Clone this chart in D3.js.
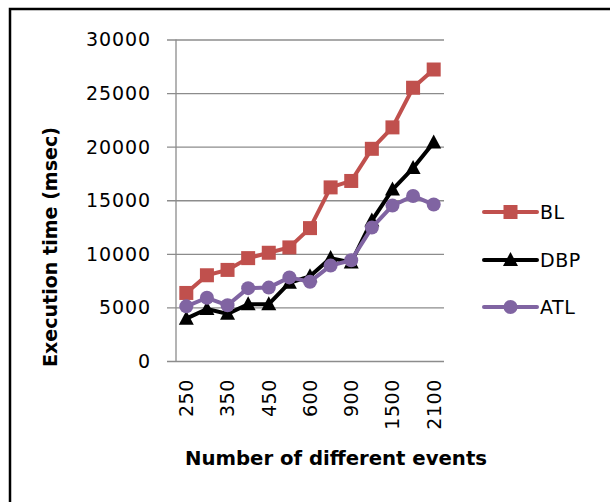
<!DOCTYPE html>
<html>
<head>
<meta charset="utf-8">
<script src="https://cdn.jsdelivr.net/npm/d3@7/dist/d3.min.js"></script>
<style>
  html, body { margin: 0; padding: 0; background: #fff; }
  svg { display: block; }
  text { font-family: "DejaVu Sans", sans-serif; fill: #000; }
</style>
</head>
<body>
<svg id="chart" width="610" height="502"></svg>
<script>
// Number of distinct events (x categories)
const categories = ["250", "300", "350", "400", "450", "500", "600", "750", "900", "1200", "1500", "1800", "2100"];
// Execution time in msec for each approach
const blValues  = [6350, 8000, 8500, 9600, 10100, 10600, 12400, 16200, 16800, 19800, 21800, 25500, 27200];
const dbpValues = [3950, 4850, 4400, 5300, 5300, 7300, 7900, 9600, 9200, 13100, 16000, 18000, 20400];
const atlValues = [5100, 5900, 5200, 6800, 6850, 7800, 7400, 8900, 9400, 12450, 14500, 15400, 14600];
const yTicks = [0, 5000, 10000, 15000, 20000, 25000, 30000];
const xTickLabels = ["250", "350", "450", "600", "900", "1500", "2100"];

const series = [
  { name: "BL",  values: blValues,  color: "#C0504D", marker: "square" },
  { name: "DBP", values: dbpValues, color: "#000000", marker: "triangle" },
  { name: "ATL", values: atlValues, color: "#8064A2", marker: "circle" }
];

const svg = d3.select("#chart");

// outer frame (top and left edges visible)
svg.append("path")
  .attr("d", "M10,502 L10,9 L610,9")
  .attr("fill", "none").attr("stroke", "#000").attr("stroke-width", 2.5);

const plot = { left: 176, right: 444, top: 39.5, bottom: 361 };

const x = d3.scaleBand().domain(categories).range([plot.left, plot.right]);
const y = d3.scaleLinear().domain([0, 30000]).range([plot.bottom, plot.top]);

// horizontal gridlines with tick stubs
const yAxis = d3.axisLeft(y).tickValues(yTicks).tickSize(-(plot.right - plot.left)).tickFormat("");
const gy = svg.append("g").attr("transform", `translate(${plot.left},0)`).call(yAxis);
gy.select(".domain").remove();
gy.selectAll(".tick line").attr("stroke", "#8c8c8c").attr("stroke-width", 1.3).attr("x1", -9);

// y tick labels
svg.append("g").selectAll("text").data(yTicks).join("text")
  .attr("x", 151).attr("y", d => y(d)).attr("dy", "0.36em")
  .attr("text-anchor", "end").attr("font-size", 19).attr("letter-spacing", 0.9)
  .text(d => d);

// vertical axis line
svg.append("line")
  .attr("x1", plot.left).attr("x2", plot.left)
  .attr("y1", plot.top).attr("y2", plot.bottom)
  .attr("stroke", "#8c8c8c").attr("stroke-width", 1.3);

// x tick labels, rotated
svg.append("g").selectAll("text").data(xTickLabels).join("text")
  .attr("transform", d => `translate(${x(d) + x.bandwidth() / 2},379) rotate(-90)`)
  .attr("text-anchor", "end").attr("dy", "0.36em")
  .attr("font-size", 19).attr("letter-spacing", 0.6)
  .text(d => d);

// axis titles
svg.append("text")
  .attr("x", 185).attr("y", 465)
  .attr("font-size", 19).attr("font-weight", "bold")
  .attr("textLength", 302).attr("lengthAdjust", "spacingAndGlyphs")
  .text("Number of different events");

svg.append("text")
  .attr("transform", "translate(57,367) rotate(-90)")
  .attr("font-size", 19).attr("font-weight", "bold")
  .attr("textLength", 240).attr("lengthAdjust", "spacingAndGlyphs")
  .text("Execution time (msec)");

const line = d3.line()
  .x((d, i) => x(categories[i]) + x.bandwidth() / 2)
  .y(d => y(d));

function drawMarker(g, type, color, cx, cy) {
  if (type === "square") {
    g.append("rect").attr("x", cx - 7).attr("y", cy - 7).attr("width", 14).attr("height", 14).attr("fill", color);
  } else if (type === "triangle") {
    g.append("path").attr("d", `M${cx},${cy - 8} L${cx + 7.5},${cy + 6} L${cx - 7.5},${cy + 6} Z`).attr("fill", color);
  } else {
    g.append("circle").attr("cx", cx).attr("cy", cy).attr("r", 7).attr("fill", color);
  }
}

series.forEach(s => {
  svg.append("path").datum(s.values)
    .attr("d", line).attr("fill", "none")
    .attr("stroke", s.color).attr("stroke-width", 4).attr("stroke-linejoin", "round");
  const g = svg.append("g");
  s.values.forEach((v, i) => drawMarker(g, s.marker, s.color, x(categories[i]) + x.bandwidth() / 2, y(v)));
});

// legend
const legendY = [212, 260, 307];
series.forEach((s, i) => {
  const g = svg.append("g");
  g.append("line").attr("x1", 484).attr("x2", 537).attr("y1", legendY[i]).attr("y2", legendY[i])
    .attr("stroke", s.color).attr("stroke-width", 4).attr("stroke-linecap", "round");
  drawMarker(g, s.marker, s.color, 510.5, legendY[i]);
  g.append("text").attr("x", 540).attr("y", legendY[i]).attr("dy", "0.36em")
    .attr("font-size", 19).attr("letter-spacing", 0.5).text(s.name);
});
</script>
</body>
</html>
